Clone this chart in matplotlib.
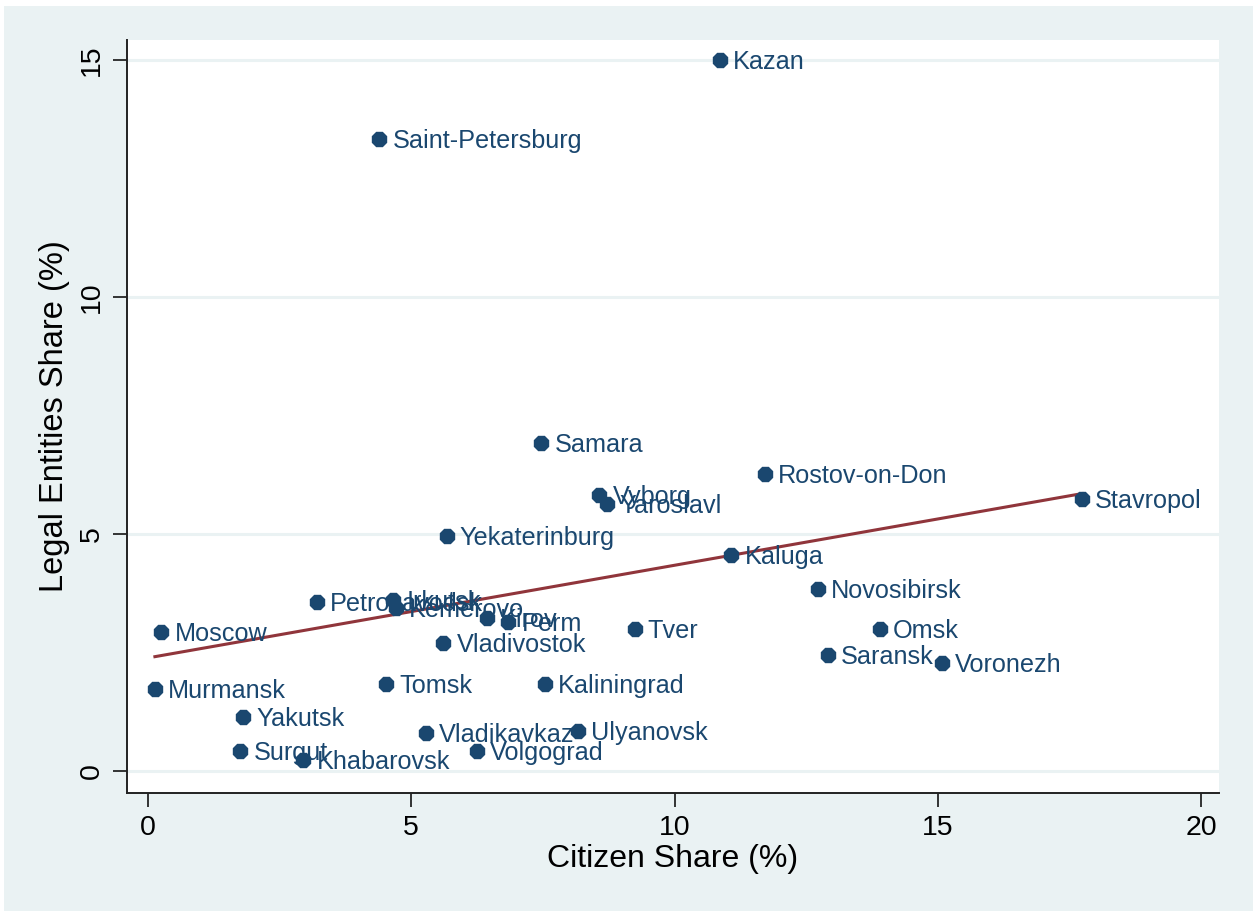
import numpy as np
import matplotlib
matplotlib.use("Agg")
import matplotlib.pyplot as plt
from matplotlib.patches import Rectangle

plt.rcParams['font.family'] = ['Liberation Sans', 'DejaVu Sans']

# City-level shares (%)
cities = ["Kazan", "Saint-Petersburg", "Samara", "Rostov-on-Don", "Vyborg",
          "Yaroslavl", "Stavropol", "Yekaterinburg", "Kaluga", "Novosibirsk",
          "Petrozavodsk", "Irkutsk", "Kemerovo", "Kirov", "Perm", "Tver",
          "Omsk", "Moscow", "Vladivostok", "Saransk", "Voronezh", "Murmansk",
          "Tomsk", "Kaliningrad", "Yakutsk", "Vladikavkaz", "Ulyanovsk",
          "Surgut", "Volgograd", "Khabarovsk"]
citizen_share = [10.86, 4.39, 7.47, 11.71, 8.57,
                 8.71, 17.74, 5.67, 11.08, 12.72,
                 3.21, 4.66, 4.70, 6.43, 6.84, 9.24,
                 13.90, 0.25, 5.61, 12.91, 15.08, 0.13,
                 4.52, 7.53, 1.81, 5.27, 8.17,
                 1.75, 6.24, 2.95]
legal_share = [15.00, 13.33, 6.92, 6.27, 5.82,
               5.63, 5.74, 4.96, 4.56, 3.84,
               3.57, 3.61, 3.44, 3.23, 3.14, 3.00,
               3.00, 2.93, 2.70, 2.45, 2.28, 1.73,
               1.84, 1.84, 1.14, 0.80, 0.84,
               0.42, 0.42, 0.23]
x_ticks = [0, 5, 10, 15, 20]
y_ticks = [0, 5, 10, 15]

BG = "#eaf2f3"
NAVY = "#1a476f"
MAROON = "#90353b"

W, H = 1253, 911
fig = plt.figure(figsize=(W / 100, H / 100), dpi=100, facecolor="white")
fig.patches.append(Rectangle((4 / W, -0.01), 1.02 - 4 / W, 1.01 - 6 / H,
                             transform=fig.transFigure, facecolor=BG,
                             edgecolor="none", zorder=-10))

ax = fig.add_axes([127 / W, 1 - 793 / H, (1219 - 127) / W, (793 - 40) / H])
ax.set_facecolor("white")

x = np.array(citizen_share)
y = np.array(legal_share)

# horizontal grid at the y ticks
for t in y_ticks:
    ax.axhline(t, color=BG, lw=2.2, zorder=1)

# linear fit
slope, intercept = np.polyfit(x, y, 1)
xf = np.array([x.min(), x.max()])
ax.plot(xf, intercept + slope * xf, color=MAROON, lw=2.2, zorder=3)

ax.plot(x, y, linestyle="none", marker="8", markersize=10.5,
        color=NAVY, markeredgecolor=NAVY, zorder=4)

for name, xi, yi in zip(cities, x, y):
    ax.annotate(name, (xi, yi), xytext=(9.5, -1.5), textcoords="offset points",
                va="center", ha="left", fontsize=18.2, color=NAVY, zorder=5)

ax.set_xlim(-0.40, 20.34)
ax.set_ylim(-0.46, 15.42)
ax.set_xticks(x_ticks)
ax.set_yticks(y_ticks)
ax.set_xticklabels([str(t) for t in x_ticks], fontsize=20.5)
ax.set_yticklabels([str(t) for t in y_ticks], fontsize=20.5, rotation=90,
                   va="center")
ax.tick_params(direction="out", length=10, width=1.4, color="#333333", pad=6)

for s in ("top", "right"):
    ax.spines[s].set_visible(False)
for s in ("left", "bottom"):
    ax.spines[s].set_linewidth(1.4)
    ax.spines[s].set_color("#222222")

ax.set_xlabel("Citizen Share (%)", fontsize=23, labelpad=2)
ax.set_ylabel("Legal Entities Share (%)", fontsize=23.5, labelpad=6)

fig.savefig("out.png", dpi=100, facecolor="white")
